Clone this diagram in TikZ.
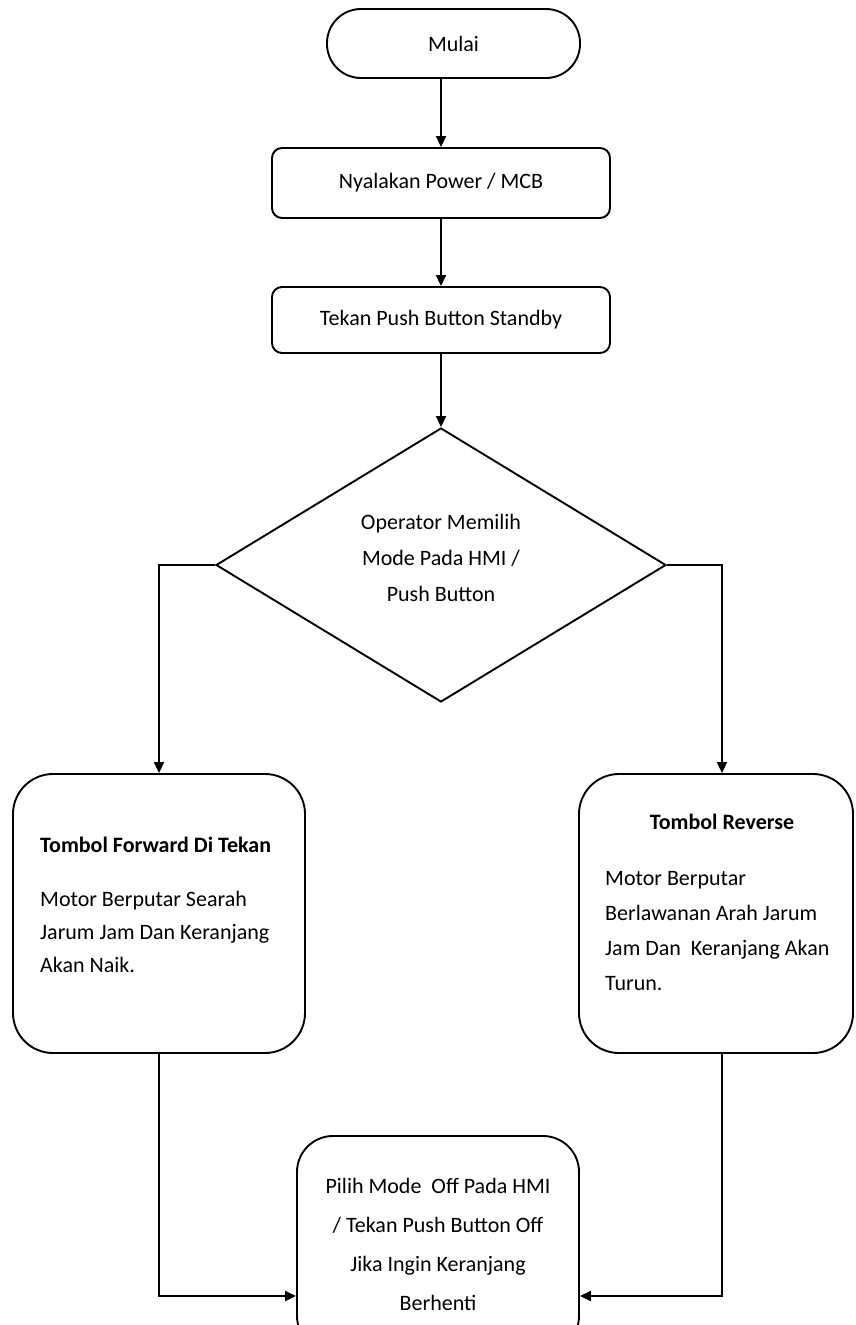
\documentclass[tikz,border=0pt]{standalone}
\usepackage{fontspec}
\setmainfont{Carlito}
\usetikzlibrary{arrows.meta,shapes.geometric}
\begin{document}
\begin{tikzpicture}[x=1pt,y=-1pt,
  font=\fontsize{22}{34}\selectfont,
  every node/.style={inner sep=0pt},
  shp/.style={draw, line width=1.9pt},
  arr/.style={line width=1.9pt, -{Triangle[length=11pt,width=10pt]}},
  ln/.style={line width=1.9pt}]
\useasboundingbox (0,0) rectangle (855,1325);
\clip (0,0) rectangle (855,1325);
\fill[white] (0,0) rectangle (855,1325);

\node[shp, rounded corners=34pt, minimum width=253pt, minimum height=69pt] (mulai) at (453.5,43.5) {Mulai};
\node[shp, rounded corners=10pt, minimum width=338pt, minimum height=70pt] (b1) at (441,183) {Nyalakan Power / MCB};
\node[shp, rounded corners=10pt, minimum width=338pt, minimum height=66pt] (b2) at (441,320) {Tekan Push Button Standby};
\node[shp, diamond, aspect=1.642, minimum width=450pt, minimum height=274pt] (dec) at (441,565) {};
\node[align=center, font=\fontsize{22}{36}\selectfont] (dtext) at (441,558) {Operator Memilih\\Mode Pada HMI /\\Push Button};

\node[shp, rounded corners=40pt, minimum width=292pt, minimum height=279pt] (lbox) at (159,913.5) {};
\node[anchor=west, align=left, font=\fontsize{22}{33}\selectfont] (ltext) at (40,905) {\textbf{Tombol Forward Di Tekan}\\[21pt]Motor Berputar Searah\\Jarum Jam Dan Keranjang\\Akan Naik.};

\node[shp, rounded corners=40pt, minimum width=274pt, minimum height=279pt] (rbox) at (716,913.5) {};
\node (rtitle) at (722,822) {\textbf{Tombol Reverse}};
\node[anchor=west, align=left, font=\fontsize{22}{35}\selectfont] (rtext) at (605,931) {Motor Berputar\\Berlawanan Arah Jarum\\Jam Dan\ \ Keranjang Akan\\Turun.};

\node[shp, rounded corners=36pt, minimum width=282pt, minimum height=216pt, align=center, font=\fontsize{22}{39}\selectfont] (bbox) at (438,1244) {Pilih Mode\ \ Off Pada HMI\\/ Tekan Push Button Off\\Jika Ingin Keranjang\\Berhenti};

\draw[arr] (mulai.south -| b1.north) -- (b1.north);
\draw[arr] (b1) -- (b2);
\draw[arr] (b2) -- (dec.north);
\draw[arr] (dec.west) -| (lbox.north);
\draw[arr] (dec.east) -| ([xshift=6pt]rbox.north);
\draw[arr] (lbox.south) |- ([yshift=-52pt]bbox.west);
\draw[arr] ([xshift=6pt]rbox.south) |- ([yshift=-52pt]bbox.east);
\end{tikzpicture}
\end{document}
